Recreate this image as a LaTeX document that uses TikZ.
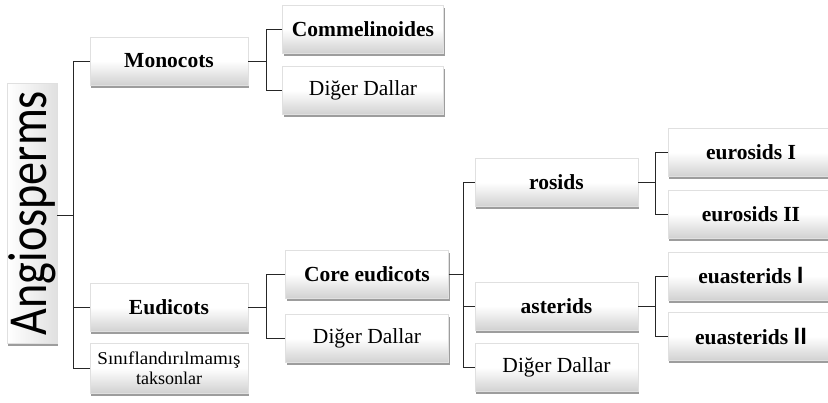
\documentclass[tikz,border=0pt]{standalone}
\usepackage{fontspec}
\setmainfont{Liberation Serif}
\newfontfamily\carlito{Carlito}
\usetikzlibrary{shadows}
\begin{document}
\begin{tikzpicture}[x=1pt,y=-1pt,
  tbox/.style={inner sep=0pt, align=center, draw=black!12, line width=0.3pt,
    top color=white, bottom color=black!18, middle color=white,
    drop shadow={shadow xshift=1.2pt, shadow yshift=-2.5pt, opacity=0.55, fill=black!70},
    font=\fontsize{21.5}{24}\selectfont},
  bbox/.style={tbox, font=\fontsize{21.5}{24}\selectfont\bfseries},
  w1/.style={minimum width=158pt, minimum height=48pt},
  w2/.style={minimum width=161pt, minimum height=48pt},
  w3/.style={minimum width=163pt, minimum height=48pt},
  w4/.style={minimum width=166pt, minimum height=48pt},
  conn/.style={draw=black!85, line width=1pt}]
\useasboundingbox (0,0) rectangle (828,402);
% root
\node[tbox, left color=white, right color=black!12, minimum width=50pt, minimum height=260pt] (angio) at (32,213)
  {\rotatebox{90}{\scalebox{0.84}[1]{\carlito\fontsize{55}{60}\selectfont Angiosperms}}};
% level 1
\node[bbox, w1] (mono) at (169,61) {Monocots};
\node[bbox, w1] (eudi) at (169,307.5) {Eudicots};
\node[tbox, w1, minimum height=50pt, font=\fontsize{18}{20}\selectfont] (sinif) at (169,368) {\scalebox{1.06}[1]{Sınıflandırılmamış}\\taksonlar};
% level 2
\node[bbox, w2] (comm) at (363,29) {Commelinoides};
\node[tbox, w2] (dig1) at (363,90.5) {Diğer Dallar};
\node[bbox, w3] (core) at (367,274) {Core eudicots};
\node[tbox, w3] (dig2) at (367,338.5) {Diğer Dallar};
% level 3
\node[bbox, w3] (rosids) at (556.5,182.5) {rosids};
\node[bbox, w3] (aster) at (556.5,306) {asterids};
\node[tbox, w3] (dig3) at (556.5,367.5) {Diğer Dallar};
% level 4
\node[bbox, w4] (eur1) at (751,152.5) {eurosids I};
\node[bbox, w4] (eur2) at (751,214) {eurosids II};
\node[bbox, w4] (eua1) at (751,276) {euasterids {\carlito\bfseries\fontsize{25}{24}\selectfont I}};
\node[bbox, w4] (eua2) at (751,336.5) {euasterids {\carlito\bfseries\fontsize{25}{24}\selectfont II}};
% bus coordinates
\coordinate (b0) at (73,0);
\coordinate (b1) at (266,0);
\coordinate (b2) at (463,0);
\coordinate (b3) at (655,0);
% connectors
\draw[conn] (angio.east |- 0,215) -- (b0 |- 0,215);
\draw[conn] (mono.west) -- (mono.west -| b0) -- (sinif.west -| b0) -- (sinif.west);
\draw[conn] (eudi.west) -- (eudi.west -| b0);
\draw[conn] (mono.east) -- (mono.east -| b1);
\draw[conn] (comm.west) -- (comm.west -| b1) -- (dig1.west -| b1) -- (dig1.west);
\draw[conn] (eudi.east) -- (eudi.east -| b1);
\draw[conn] (core.west) -- (core.west -| b1) -- (dig2.west -| b1) -- (dig2.west);
\draw[conn] (core.east) -- (core.east -| b2);
\draw[conn] (rosids.west) -- (rosids.west -| b2) -- (dig3.west -| b2) -- (dig3.west);
\draw[conn] (aster.west) -- (aster.west -| b2);
\draw[conn] (rosids.east) -- (rosids.east -| b3);
\draw[conn] (eur1.west) -- (eur1.west -| b3) -- (eur2.west -| b3) -- (eur2.west);
\draw[conn] (aster.east) -- (aster.east -| b3);
\draw[conn] (eua1.west) -- (eua1.west -| b3) -- (eua2.west -| b3) -- (eua2.west);
\end{tikzpicture}
\end{document}
